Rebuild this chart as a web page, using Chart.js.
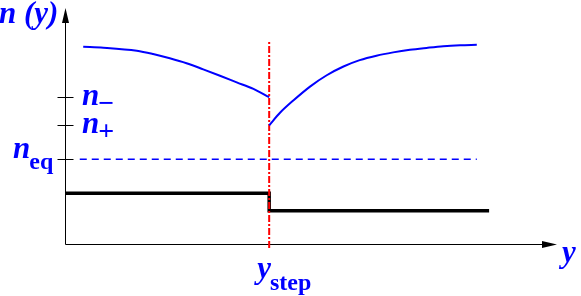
<!DOCTYPE html>
<html>
<head>
<meta charset="utf-8">
<script src="https://cdn.jsdelivr.net/npm/chart.js@4/dist/chart.umd.min.js"></script>
<style>
  html, body { margin: 0; padding: 0; background: #fff; }
  canvas { display: block; }
</style>
</head>
<body>
<canvas id="chart" width="581" height="296"></canvas>
<script>
// position of the step and the marked levels on the n axis
const yStep = 4.15;
const nMinus = 6.22;
const nPlus = 5.03;
const nEq = 3.59;

// n(y) left of the step
const leftY = [0.37, 0.78, 1.46, 1.79, 2.13, 2.47, 2.81, 3.15, 3.49, 3.83, 4.15];
const leftN = [8.36, 8.32, 8.19, 8.05, 7.87, 7.66, 7.40, 7.13, 6.85, 6.57, 6.22];

// n(y) right of the step
const rightY = [4.15, 4.37, 4.64, 4.98, 5.32, 5.66, 5.99, 6.33, 6.67, 7.01, 7.35, 7.69, 8.03, 8.37];
const rightN = [5.03, 5.56, 6.08, 6.67, 7.15, 7.52, 7.79, 7.98, 8.12, 8.23, 8.31, 8.38, 8.42, 8.44];

// step profile (black)
const stepY = [0, 4.15, 4.15, 8.62];
const stepN = [2.15, 2.15, 1.41, 1.41];

// equilibrium line and the vertical marker at y_step
const eqY = [0.3, 8.37];
const markerN = [-0.17, 8.64];

const toPts = (xs, ys) => xs.map((x, i) => ({ x, y: ys[i] }));

const serif = '"Liberation Serif", "Times New Roman", serif';

function label(ctx, main, sub, x, base, subBase, subSize = 24) {
  ctx.font = `italic bold 31px ${serif}`;
  ctx.fillText(main, x, base);
  if (sub) {
    const w = ctx.measureText(main).width;
    ctx.font = `bold ${subSize}px ${serif}`;
    ctx.fillText(sub, x + w - 1, subBase);
  }
}

const overlay = {
  id: 'overlay',
  beforeDatasetsDraw(chart) {
    const ctx = chart.ctx;
    const xs = chart.scales.x, ys = chart.scales.y;
    const area = chart.chartArea;
    const x0 = Math.round(xs.getPixelForValue(0)) + 0.5;
    const y0 = Math.round(ys.getPixelForValue(0)) + 0.5;
    ctx.save();
    ctx.strokeStyle = '#000';
    ctx.fillStyle = '#000';
    ctx.lineWidth = 1;
    ctx.beginPath();
    ctx.moveTo(x0, y0);
    ctx.lineTo(x0, area.top + 12);
    ctx.moveTo(x0, y0);
    ctx.lineTo(area.right - 12, y0);
    [nMinus, nPlus, nEq].forEach(v => {
      const py = Math.round(ys.getPixelForValue(v)) + 0.5;
      ctx.moveTo(x0 - 8, py);
      ctx.lineTo(x0 + 8, py);
    });
    ctx.stroke();
    // arrow heads
    ctx.beginPath();
    ctx.moveTo(x0, area.top);
    ctx.lineTo(x0 - 3.5, area.top + 15);
    ctx.lineTo(x0 + 3.5, area.top + 15);
    ctx.closePath();
    ctx.moveTo(area.right, y0);
    ctx.lineTo(area.right - 15, y0 - 3.5);
    ctx.lineTo(area.right - 15, y0 + 3.5);
    ctx.closePath();
    ctx.fill();
    ctx.restore();
  },
  afterDatasetsDraw(chart) {
    const ctx = chart.ctx;
    const xs = chart.scales.x, ys = chart.scales.y;
    const area = chart.chartArea;
    const x0 = xs.getPixelForValue(0);
    const y0 = ys.getPixelForValue(0);
    ctx.save();
    ctx.fillStyle = '#0000ff';
    ctx.textBaseline = 'alphabetic';
    label(ctx, 'n (y)', '', -1, 23);
    const pm = ys.getPixelForValue(nMinus);
    label(ctx, 'n', '\u2212', x0 + 17, pm + 8, pm + 15, 28);
    const pp = ys.getPixelForValue(nPlus);
    label(ctx, 'n', '+', x0 + 17, pp + 7.5, pp + 15, 28);
    const pe = ys.getPixelForValue(nEq);
    label(ctx, 'n', 'eq', x0 - 52, pe - 1.5, pe + 10);
    const ps = xs.getPixelForValue(yStep);
    label(ctx, 'y', 'step', ps - 12, y0 + 34, y0 + 46);
    label(ctx, 'y', '', area.right + 5, y0 + 18);
    ctx.restore();
  }
};

new Chart(document.getElementById('chart'), {
  type: 'scatter',
  data: {
    datasets: [
      {
        data: toPts(leftY, leftN),
        borderColor: '#0000ff', borderWidth: 2,
        showLine: true, pointRadius: 0, cubicInterpolationMode: 'monotone'
      },
      {
        data: toPts(rightY, rightN),
        borderColor: '#0000ff', borderWidth: 2,
        showLine: true, pointRadius: 0, cubicInterpolationMode: 'monotone'
      },
      {
        data: toPts(eqY, [nEq, nEq]),
        borderColor: '#0000ff', borderWidth: 1.5, borderDash: [7, 5],
        showLine: true, pointRadius: 0
      },
      {
        data: toPts([yStep, yStep], markerN),
        borderColor: '#ff0000', borderWidth: 2, borderDash: [7, 2, 2, 2],
        showLine: true, pointRadius: 0
      },
      {
        data: toPts(stepY, stepN),
        borderColor: '#000', borderWidth: 3.5,
        showLine: true, pointRadius: 0, borderJoinStyle: 'miter'
      }
    ]
  },
  options: {
    responsive: false,
    devicePixelRatio: 1,
    animation: false,
    layout: { padding: { left: 65, right: 24, top: 8, bottom: 48 } },
    plugins: { legend: { display: false }, tooltip: { enabled: false } },
    scales: {
      x: { type: 'linear', min: 0, max: 10, display: false },
      y: { type: 'linear', min: -0.17, max: 10, display: false }
    }
  },
  plugins: [overlay]
});
</script>
</body>
</html>
